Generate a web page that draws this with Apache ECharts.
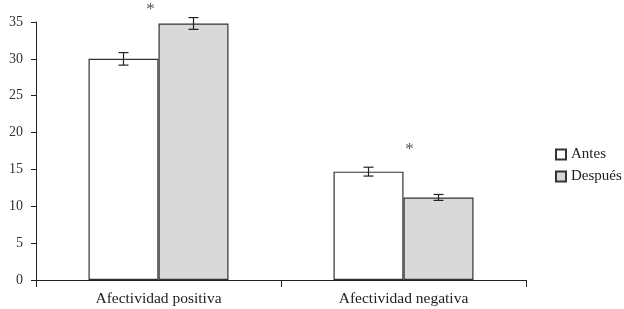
<!DOCTYPE html>
<html><head><meta charset="utf-8">
<script src="https://cdn.jsdelivr.net/npm/echarts@6/dist/echarts.min.js"></script>
<style>html,body{margin:0;padding:0;background:#fff}#c{width:624px;height:309px}</style>
</head><body><div id="c"></div>
<script>
var categories = ['Afectividad positiva', 'Afectividad negativa'];
var seriesNames = ['Antes', 'Después'];
var antes = [30.0, 14.7];
var despues = [34.8, 11.2];
var antesErr = [0.85, 0.6];
var despuesErr = [0.8, 0.4];
var sigY = [36.9, 18.0];
var sigText = ['*', '*'];
var yTicks = [0, 5, 10, 15, 20, 25, 30, 35];

var FONT = 'Liberation Serif';
var BAR_W = 70;
var chart = echarts.init(document.getElementById('c'));

function errSeries(vals, errs, dir) {
  var data = vals.map(function (v, i) { return [i, v, errs[i]]; });
  return {
    type: 'custom', z: 5, silent: true,
    renderItem: function (params, api) {
      var c = api.coord([api.value(0), api.value(1)]);
      var hi = api.coord([api.value(0), api.value(1) + api.value(2)]);
      var lo = api.coord([api.value(0), api.value(1) - api.value(2)]);
      var x = c[0] + dir * BAR_W / 2;
      var st = { stroke: '#222', lineWidth: 1.2 };
      return { type: 'group', children: [
        { type: 'line', shape: { x1: x, y1: hi[1], x2: x, y2: lo[1] }, style: st },
        { type: 'line', shape: { x1: x - 5, y1: hi[1], x2: x + 5, y2: hi[1] }, style: st },
        { type: 'line', shape: { x1: x - 5, y1: lo[1], x2: x + 5, y2: lo[1] }, style: st }
      ]};
    },
    data: data
  };
}

chart.setOption({
  animation: false,
  grid: { left: 36, right: 98, top: 22, bottom: 29 },
  legend: {
    orient: 'vertical', left: 550, top: 142, itemGap: 7, icon: 'rect',
    itemWidth: 10, itemHeight: 10,
    textStyle: { fontFamily: FONT, fontSize: 15, color: '#222' },
    data: seriesNames
  },
  xAxis: {
    type: 'category', data: categories,
    axisLine: { lineStyle: { color: '#222', width: 1 } },
    axisTick: { show: true, length: 7, lineStyle: { color: '#222' } },
    axisLabel: { fontFamily: FONT, fontSize: 15.5, color: '#222', margin: 11 }
  },
  yAxis: {
    type: 'value', min: 0, max: 35, interval: 5,
    splitLine: { show: false },
    axisLine: { show: true, lineStyle: { color: '#222', width: 1 } },
    axisTick: { show: true, length: 5, lineStyle: { color: '#222' } },
    axisLabel: { fontFamily: FONT, fontSize: 14, color: '#333', margin: 13 }
  },
  series: [
    { name: seriesNames[0], type: 'bar', data: antes, barWidth: BAR_W, barGap: '0%',
      itemStyle: { color: '#ffffff', borderColor: '#333', borderWidth: 1.2 } },
    { name: seriesNames[1], type: 'bar', data: despues, barWidth: BAR_W, barGap: '0%',
      itemStyle: { color: '#d9d9d9', borderColor: '#333', borderWidth: 1.2 } },
    errSeries(antes, antesErr, -1),
    errSeries(despues, despuesErr, 1),
    {
      type: 'custom', silent: true, clip: false,
      renderItem: function (params, api) {
        var c = api.coord([api.value(0), api.value(1)]);
        var dx = params.dataIndex === 0 ? -8 : 6;
        return { type: 'text', x: c[0] + dx, y: c[1] + 2,
          style: { text: sigText[params.dataIndex], fontFamily: FONT, fontSize: 17,
            fill: '#555', align: 'center', verticalAlign: 'middle' } };
      },
      data: sigY.map(function (v, i) { return [i, v]; })
    }
  ]
});
</script></body></html>
